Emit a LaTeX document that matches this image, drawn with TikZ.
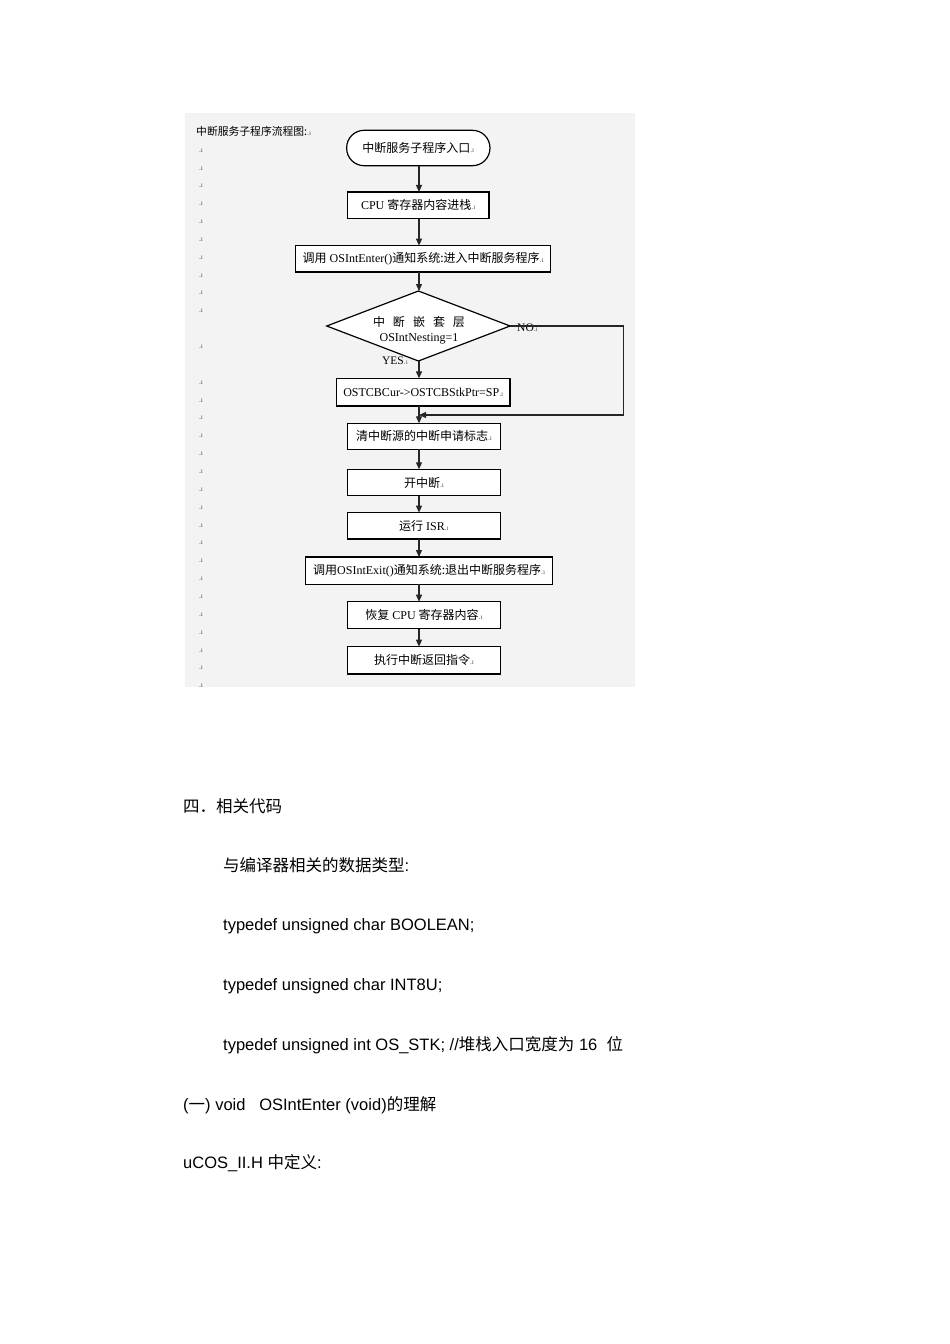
\documentclass[tikz,border=0pt]{standalone}
\usepackage{fontspec}
\setmainfont{Liberation Serif}
\newfontfamily\cjk{Noto Sans CJK SC}
\newfontfamily\bodysans{Liberation Sans}
\usetikzlibrary{arrows.meta,shapes.geometric}
\newcommand\zh[1]{{\cjk #1}}
\newcommand\pmk{{\fontsize{7.5}{8}\selectfont\color{black!65}.ı}}
\definecolor{panelgray}{HTML}{F3F3F3}
\begin{document}
\begin{tikzpicture}[x=1pt,y=-1pt,
  box/.style={draw=black, line width=1.2pt, fill=white, inner sep=0pt, outer sep=0pt, align=center, font=\fontsize{12}{14}\selectfont},
  arr/.style={draw=black!85, line width=1.2pt, -{Triangle[length=7pt,width=6pt]}},
  lbl/.style={inner sep=0pt, font=\fontsize{11.5}{13}\selectfont},
  pmarknode/.style={inner sep=0pt},
  body/.style={anchor=base west, inner sep=0pt, font=\bodysans\fontsize{16.5}{20}\selectfont}]
\useasboundingbox (0,0) rectangle (950,1344);
\fill[white] (0,0) rectangle (950,1344);
\fill[panelgray] (185,113) rectangle (635,687);

% title and paragraph marks
\node[lbl, anchor=west, font=\fontsize{10.8}{13}\selectfont] (title) at (196,131) {\zh{中断服务子程序流程图:}\pmk};
\foreach \yy [count=\i] in {150.5,168.4,186.2,204,221.9,239.8,257.6,275.5,293.3,311.2,347,382.6,400.5,418.3,436.2,454,471.9,489.8,507.6,525.5,543.3,561.2,579,596.9,614.8,632.6,650.5,668.3,686}
  \node[pmarknode] (m\i) at (201,\yy) {\pmk};

\coordinate (axis) at (419,0);

% flowchart nodes
\node[box, rounded corners=17.5pt, minimum width=143.3pt, minimum height=35.4pt] (start) at (418.3,148) {\zh{中断服务子程序入口}\pmk};
\node[box, minimum width=141.7pt, minimum height=26.7pt] (b2) at (418.2,205.3) {CPU \zh{寄存器内容进栈}\pmk};
\node[box, minimum width=255pt, minimum height=26.3pt] (b3) at (423.2,258.8) {\zh{调用} OSIntEnter()\zh{通知系统:进入中断服务程序}\pmk};
\node[box, shape=diamond, aspect=2.6, minimum width=183.3pt, minimum height=70pt] (d) at (418.4,326) {};
\node[lbl, align=center, font=\fontsize{12}{14}\selectfont] (dtext) at (419,330)
  {\zh{中\hspace{8pt}断\hspace{8pt}嵌\hspace{8pt}套\hspace{8pt}层}\\[1pt] OSIntNesting=1};
\node[box, minimum width=173.3pt, minimum height=27.7pt] (b4) at (423.3,392.2) {OSTCBCur->OSTCBStkPtr=SP\pmk};
\node[box, minimum width=153.4pt, minimum height=26pt] (b5) at (424,436.3) {\zh{清中断源的中断申请标志}\pmk};
\node[box, minimum width=153.4pt, minimum height=26.4pt] (b6) at (424,482.5) {\zh{开中断}\pmk};
\node[box, minimum width=153.4pt, minimum height=26.4pt] (b7) at (424,525.8) {\zh{运行} ISR\pmk};
\node[box, minimum width=247pt, minimum height=27.3pt] (b8) at (429.2,570.7) {\zh{调用}OSIntExit()\zh{通知系统:退出中断服务程序}\pmk};
\node[box, minimum width=153.4pt, minimum height=27pt] (b9) at (424,615.2) {\zh{恢复} CPU \zh{寄存器内容}\pmk};
\node[box, minimum width=153.4pt, minimum height=27.3pt] (b10) at (424,660.3) {\zh{执行中断返回指令}\pmk};

\node[lbl, anchor=west] (no) at (517,327.5) {NO\pmk};
\node[lbl] (yes) at (395,361) {YES\pmk};

% connectors
\draw[arr] (axis |- start.south) -- (axis |- b2.north);
\draw[arr] (axis |- b2.south) -- (axis |- b3.north);
\draw[arr] (axis |- b3.south) -- (axis |- d.north);
\draw[arr] (axis |- d.south) -- (axis |- b4.north);
\draw[arr] (axis |- b4.south) -- (axis |- b5.north);
\coordinate (noturn) at (623.3,415);
\draw[arr] (d.east) -| (noturn) -- (axis |- noturn);
\draw[arr] (axis |- b5.south) -- (axis |- b6.north);
\draw[arr] (axis |- b6.south) -- (axis |- b7.north);
\draw[arr] (axis |- b7.south) -- (axis |- b8.north);
\draw[arr] (axis |- b8.south) -- (axis |- b9.north);
\draw[arr] (axis |- b9.south) -- (axis |- b10.north);

% body text
\node[body] (h4) at (183,812) {\zh{四．相关代码}};
\node[body] (t1) at (223,871) {\zh{与编译器相关的数据类型}:};
\node[body] (t2) at (223,930) {typedef unsigned char BOOLEAN;};
\node[body] (t3) at (223,990) {typedef unsigned char INT8U;};
\node[body] (t4) at (223,1050) {typedef unsigned int OS\_STK; //\zh{堆栈入口宽度为} 16\ \ \zh{位}};
\node[body] (t5) at (183,1110) {(\zh{一}) void\ \ \ OSIntEnter (void)\zh{的理解}};
\node[body] (t6) at (183,1168) {uCOS\_II.H \zh{中定义}:};
\end{tikzpicture}
\end{document}
